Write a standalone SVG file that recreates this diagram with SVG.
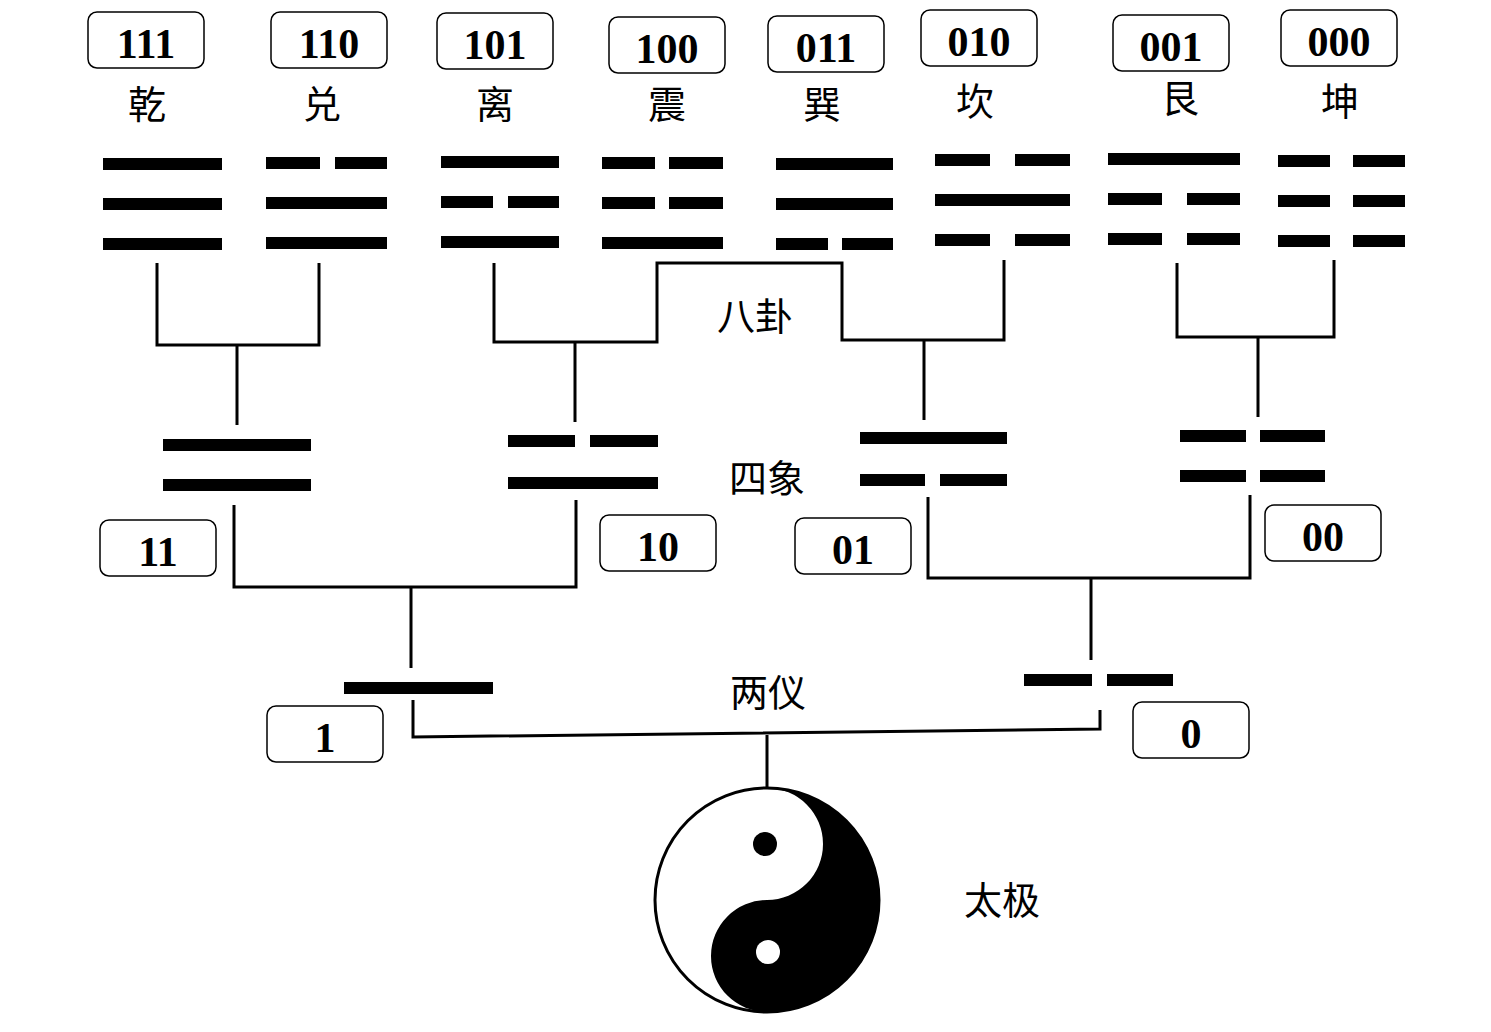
<svg xmlns="http://www.w3.org/2000/svg" width="1491" height="1032" viewBox="0 0 1491 1032">
<style>
.b{fill:#000}
.box{fill:#fff;stroke:#000;stroke-width:1.5}
.num{font-family:"Liberation Serif",serif;font-weight:bold;font-size:42px;text-anchor:middle}
.zh{font-family:"Noto Sans CJK SC",sans-serif;font-size:38px;text-anchor:middle}
.c{fill:none;stroke:#000;stroke-width:3}
</style>
<rect width="1491" height="1032" fill="#fff"/>
<g id="labels">
<g id="b111"><rect class="box" x="88" y="12" width="116" height="56" rx="9"/><text class="num" x="146" y="58">111</text><text class="zh" x="147" y="118">乾</text></g>
<g id="b110"><rect class="box" x="271" y="12" width="116" height="56" rx="9"/><text class="num" x="329" y="58">110</text><text class="zh" x="322" y="118">兑</text></g>
<g id="b101"><rect class="box" x="437" y="13" width="116" height="56" rx="9"/><text class="num" x="495" y="59">101</text><text class="zh" x="495" y="118">离</text></g>
<g id="b100"><rect class="box" x="609" y="17" width="116" height="56" rx="9"/><text class="num" x="667" y="63">100</text><text class="zh" x="667" y="118">震</text></g>
<g id="b011"><rect class="box" x="768" y="16" width="116" height="56" rx="9"/><text class="num" x="826" y="62">011</text><text class="zh" x="822" y="118">巽</text></g>
<g id="b010"><rect class="box" x="921" y="10" width="116" height="56" rx="9"/><text class="num" x="979" y="56">010</text><text class="zh" x="975" y="115">坎</text></g>
<g id="b001"><rect class="box" x="1113" y="15" width="116" height="56" rx="9"/><text class="num" x="1171" y="61">001</text><text class="zh" x="1180" y="112">艮</text></g>
<g id="b000"><rect class="box" x="1281" y="10" width="116" height="56" rx="9"/><text class="num" x="1339" y="56">000</text><text class="zh" x="1340" y="115">坤</text></g>
<g id="b11"><rect class="box" x="100" y="520" width="116" height="56" rx="9"/><text class="num" x="158" y="566">11</text></g>
<g id="b10"><rect class="box" x="600" y="515" width="116" height="56" rx="9"/><text class="num" x="658" y="561">10</text></g>
<g id="b01"><rect class="box" x="795" y="518" width="116" height="56" rx="9"/><text class="num" x="853" y="564">01</text></g>
<g id="b00"><rect class="box" x="1265" y="505" width="116" height="56" rx="9"/><text class="num" x="1323" y="551">00</text></g>
<g id="b1"><rect class="box" x="267" y="706" width="116" height="56" rx="9"/><text class="num" x="325" y="752">1</text></g>
<g id="b0"><rect class="box" x="1133" y="702" width="116" height="56" rx="9"/><text class="num" x="1191" y="748">0</text></g>
<text class="zh" x="755" y="330">八卦</text>
<text class="zh" x="767" y="492">四象</text>
<text class="zh" x="768" y="706">两仪</text>
<text class="zh" x="1002" y="914">太极</text>
</g>
<g id="trigrams" class="b">
<rect x="103" y="158" width="119" height="12"/><rect x="103" y="198" width="119" height="12"/><rect x="103" y="238" width="119" height="12"/>
<rect x="266" y="157" width="54" height="12"/><rect x="335" y="157" width="52" height="12"/><rect x="266" y="197" width="121" height="12"/><rect x="266" y="237" width="121" height="12"/>
<rect x="441" y="156" width="118" height="12"/><rect x="441" y="196" width="52" height="12"/><rect x="508" y="196" width="51" height="12"/><rect x="441" y="236" width="118" height="12"/>
<rect x="602" y="157" width="53" height="12"/><rect x="669" y="157" width="54" height="12"/><rect x="602" y="197" width="53" height="12"/><rect x="669" y="197" width="54" height="12"/><rect x="602" y="237" width="121" height="12"/>
<rect x="776" y="158" width="117" height="12"/><rect x="776" y="198" width="117" height="12"/><rect x="776" y="238" width="52" height="12"/><rect x="842" y="238" width="51" height="12"/>
<rect x="935" y="154" width="55" height="12"/><rect x="1015" y="154" width="55" height="12"/><rect x="935" y="194" width="135" height="12"/><rect x="935" y="234" width="55" height="12"/><rect x="1015" y="234" width="55" height="12"/>
<rect x="1108" y="153" width="132" height="12"/><rect x="1108" y="193" width="54" height="12"/><rect x="1187" y="193" width="53" height="12"/><rect x="1108" y="233" width="54" height="12"/><rect x="1187" y="233" width="53" height="12"/>
<rect x="1278" y="155" width="52" height="12"/><rect x="1353" y="155" width="52" height="12"/><rect x="1278" y="195" width="52" height="12"/><rect x="1353" y="195" width="52" height="12"/><rect x="1278" y="235" width="52" height="12"/><rect x="1353" y="235" width="52" height="12"/>
</g>
<g id="sixiang" class="b">
<rect x="163" y="439" width="148" height="12"/><rect x="163" y="479" width="148" height="12"/>
<rect x="508" y="435" width="67" height="12"/><rect x="590" y="435" width="68" height="12"/><rect x="508" y="477" width="150" height="12"/>
<rect x="860" y="432" width="147" height="12"/><rect x="860" y="474" width="65" height="12"/><rect x="940" y="474" width="67" height="12"/>
<rect x="1180" y="430" width="66" height="12"/><rect x="1260" y="430" width="65" height="12"/><rect x="1180" y="470" width="66" height="12"/><rect x="1260" y="470" width="65" height="12"/>
</g>
<g id="liangyi" class="b">
<rect x="344" y="682" width="149" height="12"/>
<rect x="1024" y="674" width="68" height="12"/><rect x="1107" y="674" width="66" height="12"/>
</g>
<g id="connectors" class="c">
<path d="M157 263V345H319V263M237 345V425"/>
<path d="M494 263V342H657V263H842V340H1004V260M575 342V422M924 340V420"/>
<path d="M1177 263V337H1334V260M1258 337V417"/>
<path d="M234 505V587H576V500M411 587V668"/>
<path d="M928 497V578H1250V495M1091 578V660"/>
<path d="M413 700V737L1100 729V710M767 735V790"/>
</g>
<g id="taiji">
<circle cx="767" cy="900" r="112" fill="#fff" stroke="#000" stroke-width="3"/>
<path d="M767 788A112 112 0 0 1 767 1012A56 56 0 0 1 767 900A56 56 0 0 0 767 788Z" fill="#000"/>
<circle cx="765" cy="844" r="12" fill="#000"/>
<circle cx="768" cy="952" r="12" fill="#fff"/>
</g>
</svg>
